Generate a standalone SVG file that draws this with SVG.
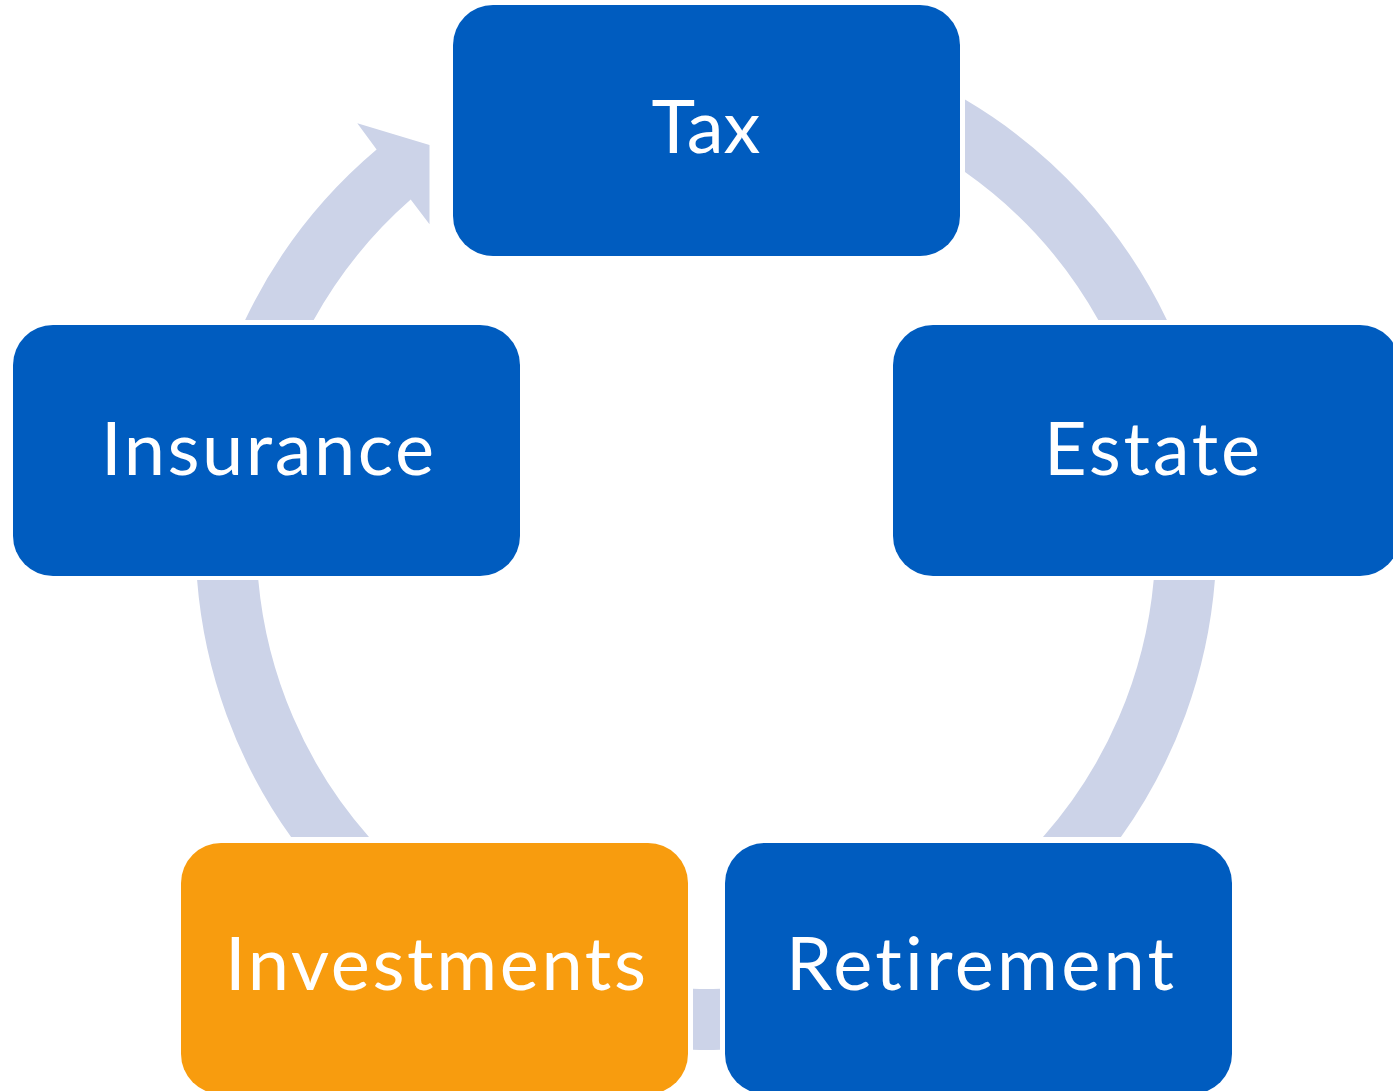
<svg xmlns="http://www.w3.org/2000/svg" width="1393" height="1091" viewBox="0 0 1393 1091">
  <style>
    .node { fill: #005CBF; }
    .node.accent { fill: #F89C0E; }
    .band { fill: #CCD3E8; }
    .label { fill: #FFFFFF; font-family: "Lato", "Liberation Sans", sans-serif; font-size: 74px; text-anchor: middle; font-variant-ligatures: none; }
  </style>
  <rect width="1393" height="1091" fill="#FFFFFF"/>

  <!-- Cycle band: ring centred at (706,539.5), radii 449.5 / 510.5, cut around each box -->
  <g id="connectors">
    <!-- Insurance to Tax, ends in an arrowhead -->
    <path class="band" d="M 245.1,320 A 510.5 510.5 0 0 1 376.6,149.5 L 357.3,123.3 L 429.5,145 L 429.5,224.3 L 410.7,199.6 A 449.5 449.5 0 0 0 313.7,320 Z"/>
    <!-- Tax to Estate -->
    <path class="band" d="M 965,99.6 A 510.5 510.5 0 0 1 1166.9,320 L 1098.3,320 A 449.5 449.5 0 0 0 965,172.1 Z"/>
    <!-- Estate to Retirement -->
    <path class="band" d="M 1214.9,580 A 510.5 510.5 0 0 1 1120.9,837 L 1043,837 A 449.5 449.5 0 0 0 1153.7,580 Z"/>
    <!-- Retirement to Investments -->
    <path class="band" d="M 720,1049.8 A 510.5 510.5 0 0 1 693,1049.8 L 693,988.8 A 449.5 449.5 0 0 0 720,988.8 Z"/>
    <!-- Investments to Insurance -->
    <path class="band" d="M 291.1,837 A 510.5 510.5 0 0 1 197.1,580 L 258.3,580 A 449.5 449.5 0 0 0 369,837 Z"/>
  </g>

  <g id="node-tax">
    <rect class="node" x="453" y="5" width="507" height="251" rx="40" ry="40"/>
    <text class="label" x="706" y="153">Tax</text>
  </g>
  <g id="node-estate">
    <rect class="node" x="893" y="325" width="507" height="251" rx="40" ry="40"/>
    <text class="label" x="1152" y="475" textLength="216">Estate</text>
  </g>
  <g id="node-retirement">
    <rect class="node" x="725" y="843" width="507" height="251" rx="40" ry="40"/>
    <text class="label" x="980" y="990" textLength="388">Retirement</text>
  </g>
  <g id="node-investments">
    <rect class="node accent" x="181" y="843" width="507" height="251" rx="40" ry="40"/>
    <text class="label" x="435.5" y="990" textLength="421">Investments</text>
  </g>
  <g id="node-insurance">
    <rect class="node" x="13" y="325" width="507" height="251" rx="40" ry="40"/>
    <text class="label" x="267.5" y="475" textLength="333">Insurance</text>
  </g>
</svg>
